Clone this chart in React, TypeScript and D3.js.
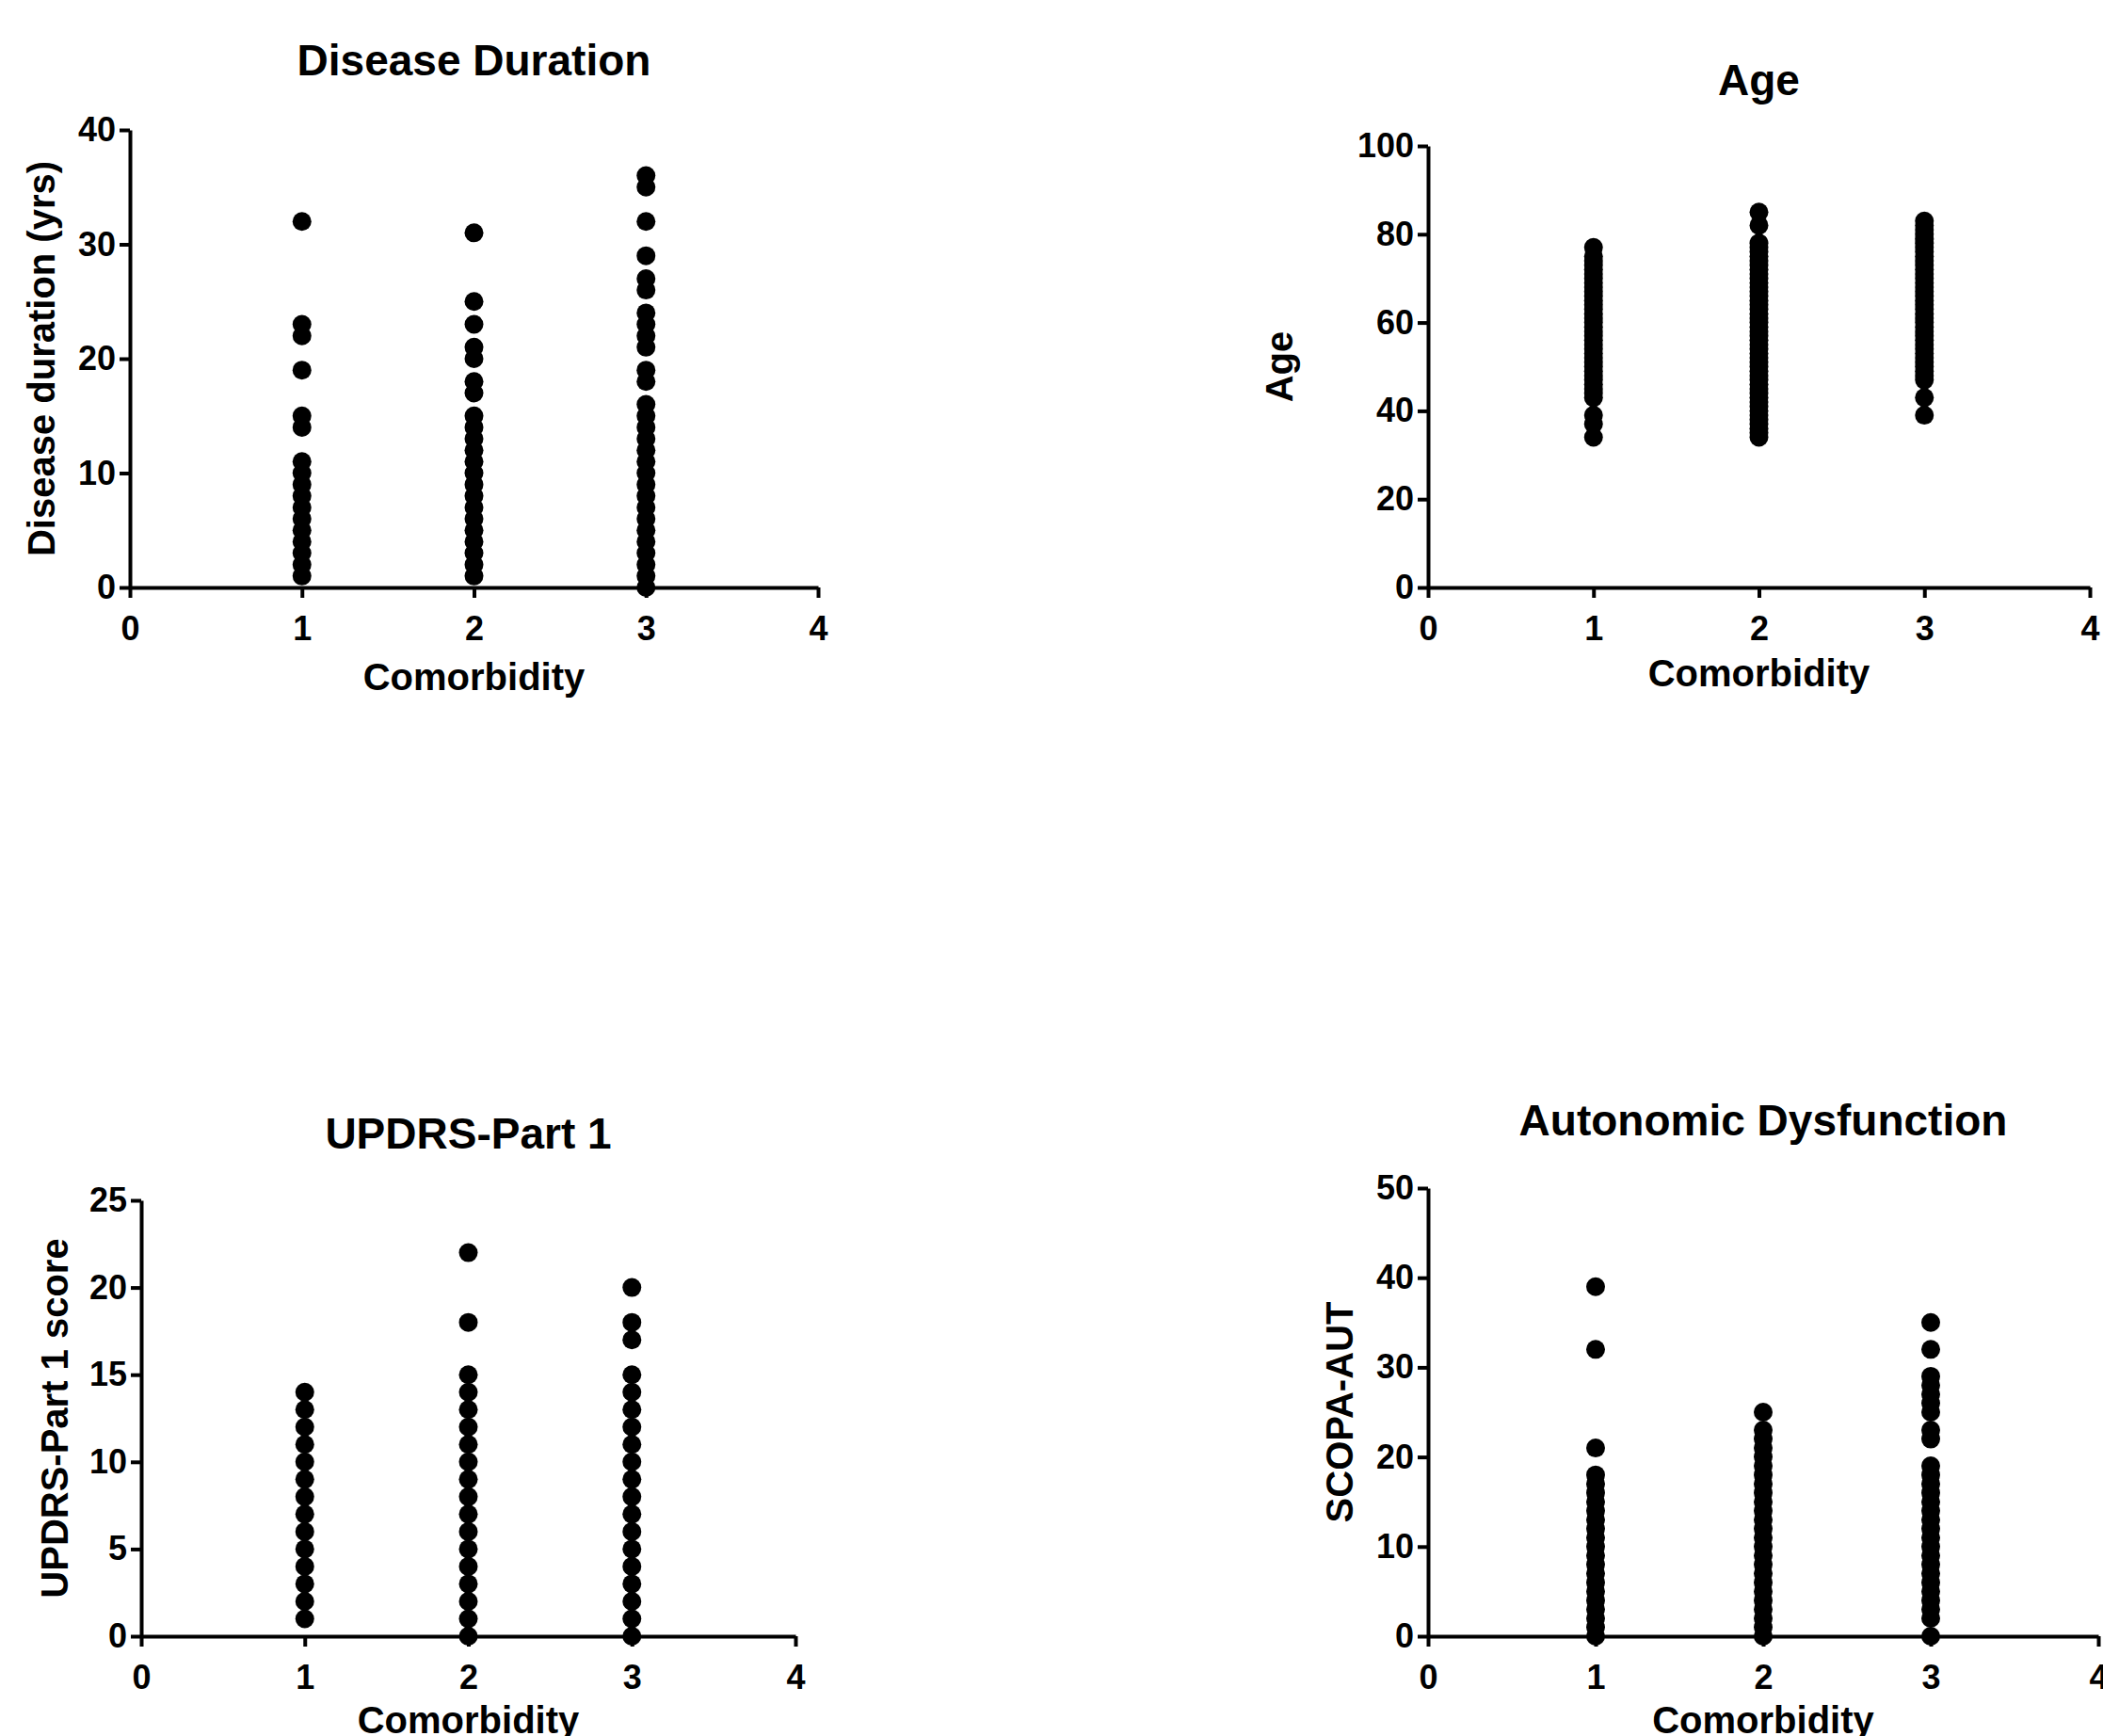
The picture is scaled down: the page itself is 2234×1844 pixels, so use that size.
import React, { useEffect, useRef } from 'react';
import * as d3 from 'd3';

// comorbidity groups on the x axis
const groups = [1, 2, 3];
const xTicks = [0, 1, 2, 3, 4];

// Disease duration (yrs)
const durationG1 = [1, 2, 3, 4, 5, 6, 7, 8, 9, 10, 11, 14, 15, 19, 22, 23, 32];
const durationG2 = [1, 2, 3, 4, 5, 6, 7, 8, 9, 10, 11, 12, 13, 14, 15, 17, 18, 20, 21, 23, 25, 31];
const durationG3 = [0, 1, 2, 3, 4, 5, 6, 7, 8, 9, 10, 11, 12, 13, 14, 15, 16, 18, 19, 21, 22, 23, 24, 26, 27, 29, 32, 35, 36];
const durationTicks = [0, 10, 20, 30, 40];

// Age
const ageG1 = [34, 37, 39, 43, 44, 45, 46, 47, 48, 49, 50, 51, 52, 53, 54, 55, 56, 57, 58, 59, 60, 61, 62, 63, 64, 65, 66, 67, 68, 69, 70, 71, 72, 73, 74, 75, 77];
const ageG2 = [34, 35, 36, 37, 38, 39, 40, 41, 42, 43, 44, 45, 46, 47, 48, 49, 50, 51, 52, 53, 54, 55, 56, 57, 58, 59, 60, 61, 62, 63, 64, 65, 66, 67, 68, 69, 70, 71, 72, 73, 74, 75, 76, 77, 78, 82, 85];
const ageG3 = [39, 43, 47, 48, 49, 50, 51, 52, 53, 54, 55, 56, 57, 58, 59, 60, 61, 62, 63, 64, 65, 66, 67, 68, 69, 70, 71, 72, 73, 74, 75, 76, 77, 78, 79, 80, 81, 82, 83];
const ageTicks = [0, 20, 40, 60, 80, 100];

// UPDRS-Part 1 score
const updrsG1 = [1, 2, 3, 4, 5, 6, 7, 8, 9, 10, 11, 12, 13, 14];
const updrsG2 = [0, 1, 2, 3, 4, 5, 6, 7, 8, 9, 10, 11, 12, 13, 14, 15, 18, 22];
const updrsG3 = [0, 1, 2, 3, 4, 5, 6, 7, 8, 9, 10, 11, 12, 13, 14, 15, 17, 18, 20];
const updrsTicks = [0, 5, 10, 15, 20, 25];

// SCOPA-AUT
const scopaG1 = [0, 1, 2, 3, 4, 5, 6, 7, 8, 9, 10, 11, 12, 13, 14, 15, 16, 17, 18, 21, 32, 39];
const scopaG2 = [0, 1, 2, 3, 4, 5, 6, 7, 8, 9, 10, 11, 12, 13, 14, 15, 16, 17, 18, 19, 20, 21, 22, 23, 25];
const scopaG3 = [0, 2, 3, 4, 5, 6, 7, 8, 9, 10, 11, 12, 13, 14, 15, 16, 17, 18, 19, 22, 23, 25, 26, 27, 28, 29, 32, 35];
const scopaTicks = [0, 10, 20, 30, 40, 50];

const FONT = "'Liberation Sans', Arial, Helvetica, sans-serif";

const panels = [
  {
    title: 'Disease Duration', yLabel: 'Disease duration (yrs)', xLabel: 'Comorbidity',
    values: [durationG1, durationG2, durationG3], yTicks: durationTicks,
    left: 138, right: 869, top: 138, bottom: 624,
    titleY: 80, yLabelX: 58, xLabelY: 733,
  },
  {
    title: 'Age', yLabel: 'Age', xLabel: 'Comorbidity',
    values: [ageG1, ageG2, ageG3], yTicks: ageTicks,
    left: 1517, right: 2220, top: 155, bottom: 624,
    titleY: 101, yLabelX: 1373, xLabelY: 729,
  },
  {
    title: 'UPDRS-Part 1', yLabel: 'UPDRS-Part 1 score', xLabel: 'Comorbidity',
    values: [updrsG1, updrsG2, updrsG3], yTicks: updrsTicks,
    left: 150, right: 845, top: 1275, bottom: 1738,
    titleY: 1220, yLabelX: 72, xLabelY: 1841,
  },
  {
    title: 'Autonomic Dysfunction', yLabel: 'SCOPA-AUT', xLabel: 'Comorbidity',
    values: [scopaG1, scopaG2, scopaG3], yTicks: scopaTicks,
    left: 1517, right: 2229, top: 1262, bottom: 1738,
    titleY: 1206, yLabelX: 1437, xLabelY: 1841,
  },
];

export default function App() {
  const ref = useRef<SVGSVGElement>(null);

  useEffect(() => {
    const svg = d3.select(ref.current);
    svg.selectAll('*').remove();

    panels.forEach((p) => {
      const g = svg.append('g');
      const yMax = p.yTicks[p.yTicks.length - 1];
      const x = d3.scaleLinear().domain([0, 4]).range([p.left, p.right]);
      const y = d3.scaleLinear().domain([0, yMax]).range([p.bottom, p.top]);

      const xAxis = g
        .append('g')
        .attr('transform', `translate(0,${p.bottom})`)
        .call(d3.axisBottom(x).tickValues(xTicks).tickFormat(d3.format('d')).tickSize(11).tickSizeOuter(0).tickPadding(19));

      const yAxis = g
        .append('g')
        .attr('transform', `translate(${p.left},0)`)
        .call(d3.axisLeft(y).tickValues(p.yTicks).tickFormat(d3.format('d')).tickSize(11).tickSizeOuter(0).tickPadding(4));

      [xAxis, yAxis].forEach((a) => {
        a.selectAll('path, line').attr('stroke', '#000').attr('stroke-width', 4);
        a.selectAll('text')
          .attr('fill', '#000')
          .style('font-family', FONT)
          .style('font-weight', 'bold')
          .style('font-size', '36px');
      });

      // points
      p.values.forEach((vals, i) => {
        g.append('g')
          .selectAll('circle')
          .data(vals)
          .enter()
          .append('circle')
          .attr('cx', x(groups[i]))
          .attr('cy', (d) => y(d))
          .attr('r', 10)
          .attr('fill', '#000');
      });

      g.append('text')
        .attr('x', (p.left + p.right) / 2)
        .attr('y', p.titleY)
        .attr('text-anchor', 'middle')
        .style('font-family', FONT)
        .style('font-weight', 'bold')
        .style('font-size', '46px')
        .text(p.title);

      g.append('text')
        .attr('x', (p.left + p.right) / 2)
        .attr('y', p.xLabelY)
        .attr('text-anchor', 'middle')
        .style('font-family', FONT)
        .style('font-weight', 'bold')
        .style('font-size', '40px')
        .text(p.xLabel);

      g.append('text')
        .attr('transform', `translate(${p.yLabelX},${(p.top + p.bottom) / 2}) rotate(-90)`)
        .attr('text-anchor', 'middle')
        .style('font-family', FONT)
        .style('font-weight', 'bold')
        .style('font-size', '40px')
        .text(p.yLabel);
    });
  });

  return (
    <div id="chartArea">
      <svg
        ref={ref}
        width={2234}
        height={1844}
        style={{ position: 'absolute', left: 0, top: 0, background: '#fff' }}
      ></svg>
    </div>
  );
}
